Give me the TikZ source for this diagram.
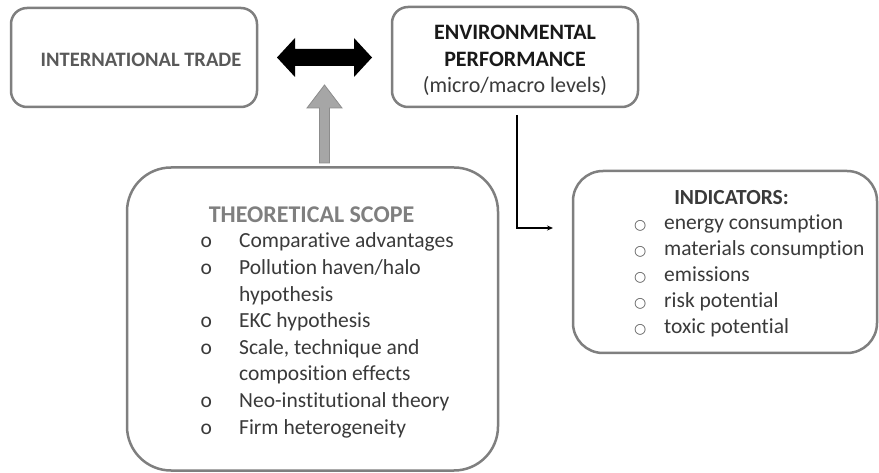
\documentclass[tikz,border=0pt]{standalone}
\usepackage{fontspec}
\setmainfont[Ligatures={NoCommon}]{Carlito}
\newfontfamily\symfont{DejaVu Sans}
\usetikzlibrary{arrows.meta}
\definecolor{boxgray}{HTML}{7F7F7F}
\definecolor{txtdark}{HTML}{3A3A3A}
\definecolor{txtmid}{HTML}{595959}
\definecolor{arrgray}{HTML}{A6A6A6}
\definecolor{arredge}{HTML}{8C8C8C}
\tikzset{
  box/.style={draw=boxgray, line width=2.5pt, fill=white, inner sep=0pt},
  lbl/.style={inner sep=0pt, text=txtdark},
}
\newcommand{\indbul}{\makebox[12pt][c]{\symfont\fontsize{14}{14}\selectfont\color{txtmid}○}}
\newcommand{\theobul}{\makebox[11pt][c]{o}}
\begin{document}
\begin{tikzpicture}[x=1pt,y=-1pt]
\useasboundingbox (0,0) rectangle (879,473);
% boxes
\node[box, rounded corners=16pt, minimum width=246pt, minimum height=99pt] (trade) at (134,57.5) {};
\node[box, rounded corners=16pt, minimum width=246pt, minimum height=100pt] (env) at (515,57) {};
\node[box, rounded corners=44pt, minimum width=371pt, minimum height=303pt] (theo) at (312.5,319) {};
\node[box, rounded corners=30pt, minimum width=304pt, minimum height=182pt] (ind) at (725,262) {};
% texts
\node[lbl, text=txtmid, anchor=base, font=\bfseries\fontsize{20.5}{24}\selectfont] (tradetxt) at (141,66.7) {INTERNATIONAL TRADE};
\node[lbl, anchor=base, align=center, font=\fontsize{22}{26.8}\selectfont] (envtxt) at (515,39.3)
  {\begin{tabular}[t]{@{}c@{}}\textbf{\color{black!90}ENVIRONMENTAL}\\ \textbf{\color{black!90}PERFORMANCE}\\ (micro/macro levels)\end{tabular}};
\node[lbl, text=boxgray, anchor=base, font=\bfseries\fontsize{24}{28}\selectfont] (theotitle) at (311.5,222.7) {THEORETICAL SCOPE};
\node[lbl, anchor=base west, font=\fontsize{21.5}{26.6}\selectfont] (theolist) at (200.5,248)
  {\begin{tabular}[t]{@{}l@{\hspace{27.5pt}}l@{}}
  \theobul & Comparative advantages\\
  \theobul & Pollution haven/halo\\
    & hypothesis\\
  \theobul & EKC hypothesis\\
  \theobul & Scale, technique and\\
    & composition effects\\
  \theobul & Neo-institutional theory\\
  \theobul & Firm heterogeneity
  \end{tabular}};
\node[lbl, anchor=base, font=\bfseries\fontsize{21.5}{26}\selectfont] (indtitle) at (731.5,205) {INDICATORS:};
\node[lbl, anchor=base west, font=\fontsize{21.5}{25.8}\selectfont] (indlist) at (634,230)
  {\begin{tabular}[t]{@{}l@{\hspace{18pt}}l@{}}
  \indbul & energy consumption\\
  \indbul & materials consumption\\
  \indbul & emissions\\
  \indbul & risk potential\\
  \indbul & toxic potential
  \end{tabular}};
% black double arrow
\fill[black] (277,57.5) -- (295,38) -- (295,49) -- (354,49) -- (354,38) -- (372,57.5)
  -- (354,77) -- (354,66) -- (295,66) -- (295,77) -- cycle;
% grey up arrow
\filldraw[fill=arrgray, draw=arredge, line width=0.8pt] (324.5,85) -- (342,108) -- (329.5,108) -- (329.5,163)
  -- (319.5,163) -- (319.5,108) -- (307,108) -- cycle;
% elbow connector
\coordinate (c1) at (517,115);
\coordinate (c2) at (553,228);
\draw[line width=1.2pt, -{Stealth[length=6pt,width=5pt]}] (c1) |- (c2);
\end{tikzpicture}
\end{document}
